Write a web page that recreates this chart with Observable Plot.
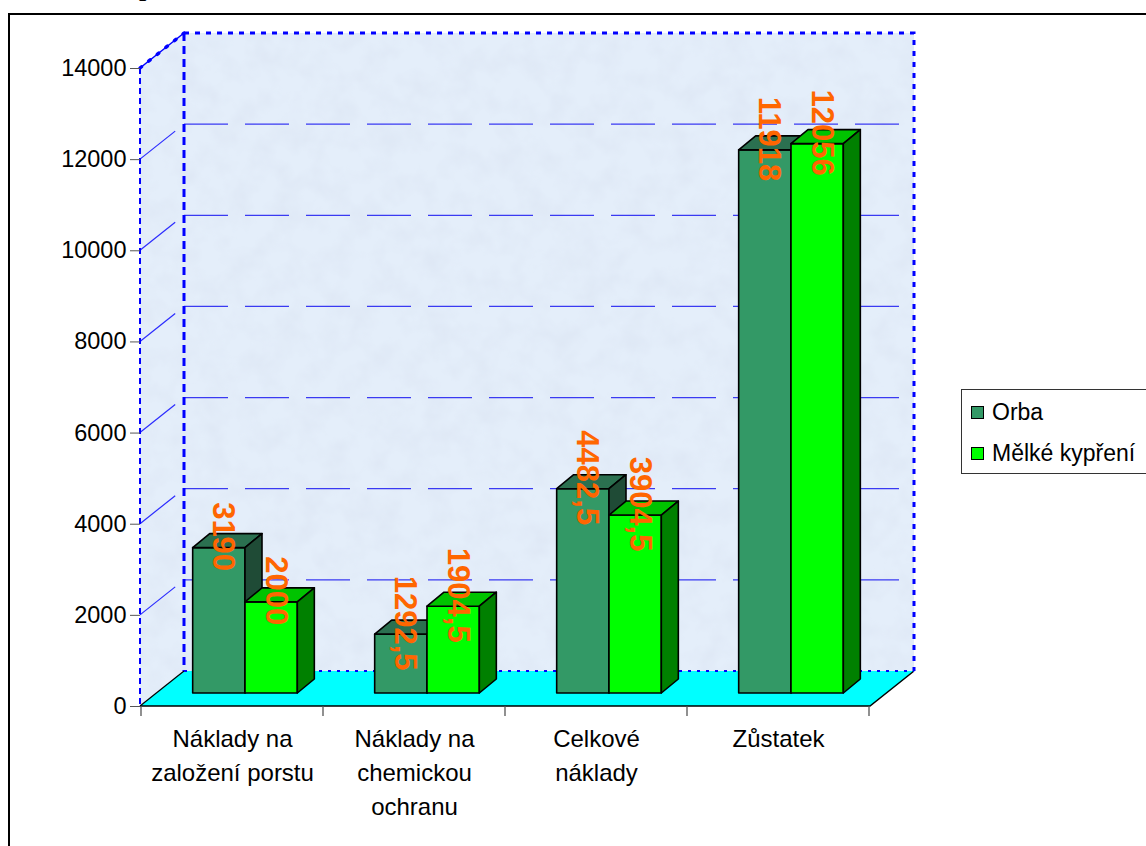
<!DOCTYPE html>
<html>
<head>
<meta charset="utf-8">
<script src="https://cdn.jsdelivr.net/npm/d3@7"></script>
<script src="https://cdn.jsdelivr.net/npm/@observablehq/plot@0.6"></script>
<style>
  html, body { margin: 0; padding: 0; background: #fff; }
  #chart { position: relative; width: 1146px; height: 846px; overflow: hidden; background: #fff; }
  #chart svg { position: absolute; left: 0; top: 0; }
  #frame { position: absolute; left: 8px; top: 13px; width: 1400px; height: 1000px; border: 2px solid #000; }
  #title { position: absolute; left: 139px; top: -25px; font: bold 26px "Liberation Serif", serif; line-height: 26px; }
  #legend { position: absolute; left: 961px; top: 389px; width: 240px; height: 81px; border: 1.5px solid #333;
            background: #fff; font: 23px "Liberation Sans", Arial, sans-serif; padding-top: 2px; box-sizing: content-box; }
  #legend .row { height: 41px; display: flex; align-items: center; }
  #legend .sw { width: 11px; height: 11px; border: 1.5px solid #000; margin-left: 9px; margin-right: 8px; }
</style>
</head>
<body>
<div id="chart">
  <div id="frame"></div>
  <div id="title"></div>
  <div id="legend"></div>
</div>
<script>
// ---------------- data ----------------
const titleText = "p";
const categories = ["Náklady na\nzaložení porstu", "Náklady na\nchemickou\nochranu", "Celkové\nnáklady", "Zůstatek"];
const seriesNames = ["Orba", "Mělké kypření"];
const orba = [3190, 1292.5, 4482.5, 11918];
const melke = [2000, 1904.5, 3904.5, 12056];
const yTicks = [0, 2000, 4000, 6000, 8000, 10000, 12000, 14000];

// ---------------- styles ----------------
const frontColors = ["#339966", "#00ff00"];
const topColors = ["#2b7050", "#00c300"];
const sideColors = ["#1f4b36", "#008000"];
const labelColor = "#ff6600";
const WALL = "#e4eefa";
const DEPTH = [44, -35];     // depth of walls / floor (px)
const BAR_OFF = [13, -13];   // bar front plane offset (px)
const BAR_D = [17, -14];     // bar depth (px)
const GROUP = 0.575;         // share of the category band used by the two bars

const fmt = v => String(v).replace(".", ",");
const seriesValues = [orba, melke];

document.getElementById("title").textContent = titleText;

// walls, floor and gridlines drawn with the plot's scales
function walls(index, scales, values, dims) {
  const {y} = scales;
  const g = d3.create("svg:g");
  const x0 = dims.marginLeft, x1 = dims.width - dims.marginRight;
  const y0 = y(0), yT = y(yTicks[yTicks.length - 1]);
  const [dx, dy] = DEPTH;
  const defs = g.append("defs");
  const f = defs.append("filter").attr("id", "mottle").attr("x", 0).attr("y", 0).attr("width", 1).attr("height", 1);
  f.append("feTurbulence").attr("type", "fractalNoise").attr("baseFrequency", "0.04").attr("numOctaves", 3).attr("seed", 7);
  f.append("feColorMatrix").attr("type", "matrix")
    .attr("values", "0 0 0 0 0.72  0 0 0 0 0.79  0 0 0 0 0.90  1.4 0 0 0 -0.52");
  f.append("feComposite").attr("in2", "SourceGraphic").attr("operator", "in");

  const back = `M${x0 + dx},${yT + dy}H${x1 + dx}V${y0 + dy}H${x0 + dx}Z`;
  const left = `M${x0},${yT}L${x0 + dx},${yT + dy}V${y0 + dy}L${x0},${y0}Z`;
  for (const d of [left, back]) {
    g.append("path").attr("d", d).attr("fill", WALL);
    g.append("path").attr("d", d).attr("fill", "#000").attr("filter", "url(#mottle)");
  }
  // gridlines on back wall + left wall
  for (const t of yTicks.slice(1, -1)) {
    g.append("line").attr("x1", x0 + dx).attr("x2", x1 + dx).attr("y1", y(t) + dy).attr("y2", y(t) + dy)
      .attr("stroke", "#3a3af2").attr("stroke-width", 1.3).attr("stroke-dasharray", "44,17");
    g.append("line").attr("x1", x0).attr("y1", y(t)).attr("x2", x0 + 0.8 * dx).attr("y2", y(t) + 0.8 * dy)
      .attr("stroke", "#2b2bff").attr("stroke-width", 1.2);
  }
  // floor
  g.append("path").attr("d", `M${x0},${y0}H${x1}L${x1 + dx},${y0 + dy}H${x0 + dx}Z`).attr("fill", "#00ffff");
  g.append("path").attr("d", `M${x0},${y0}H${x1}L${x1 + dx},${y0 + dy}`).attr("fill", "none").attr("stroke", "#000").attr("stroke-width", 1.5);
  g.append("path").attr("d", `M${x0},${y0}L${x0 + dx},${y0 + dy}`).attr("stroke", "#000").attr("stroke-width", 1.2);
  // dashed borders of the walls
  const blue = "#0000ff";
  g.append("path").attr("d", `M${x0 + dx},${yT + dy}H${x1 + dx}V${y0 + dy}`).attr("fill", "none")
    .attr("stroke", blue).attr("stroke-width", 3).attr("stroke-dasharray", "5,6");
  g.append("path").attr("d", `M${x0 + dx},${yT + dy}V${y0 + dy}`).attr("stroke", blue).attr("stroke-width", 3).attr("stroke-dasharray", "8,5");
  g.append("path").attr("d", `M${x0 + dx},${y0 + dy}H${x1 + dx}`).attr("stroke", blue).attr("stroke-width", 2).attr("stroke-dasharray", "3,6");
  g.append("path").attr("d", `M${x0},${yT}V${y0}`).attr("stroke", blue).attr("stroke-width", 2).attr("stroke-dasharray", "6,4");
  g.append("path").attr("d", `M${x0},${yT}L${x0 + dx},${yT + dy}`).attr("stroke", blue).attr("stroke-width", 1.5);
  g.append("path").attr("d", `M${x0},${yT}L${x0 + dx},${yT + dy}`).attr("stroke", blue).attr("stroke-width", 3.5)
    .attr("stroke-dasharray", "2,9").attr("stroke-linecap", "round");
  return g.node();
}

// 3D bars from the scales
function bars(index, scales, values, dims) {
  const {x, y} = scales;
  const g = d3.create("svg:g").attr("stroke", "#000").attr("stroke-width", 1.6).attr("stroke-linejoin", "round");
  const bw = x.bandwidth();
  const barW = bw * GROUP / 2;
  const [ddx, ddy] = BAR_D;
  categories.forEach((c, i) => {
    const gx = x(c) + (bw - 2 * barW) / 2 + BAR_OFF[0];
    seriesValues.forEach((vals, s) => {
      const L = gx + s * barW, R = L + barW;
      const T = y(vals[i]) + BAR_OFF[1], B = y(0) + BAR_OFF[1];
      g.append("path").attr("d", `M${L},${T}H${R}V${B}H${L}Z`).attr("fill", frontColors[s]);
      g.append("path").attr("d", `M${L},${T}H${R}L${R + ddx},${T + ddy}H${L + ddx}Z`).attr("fill", topColors[s]);
      g.append("path").attr("d", `M${R},${T}L${R + ddx},${T + ddy}V${B + ddy}L${R},${B}Z`).attr("fill", sideColors[s]);
    });
  });
  return g.node();
}

// category boundary ticks below the floor
function xTicks(index, scales, values, dims) {
  const {x, y} = scales;
  const g = d3.create("svg:g").attr("stroke", "#555").attr("stroke-width", 1.3);
  const bounds = categories.map(c => x(c)).concat([x(categories[categories.length - 1]) + x.bandwidth()]);
  for (const b of bounds) g.append("line").attr("x1", b).attr("x2", b).attr("y1", y(0)).attr("y2", y(0) + 10);
  return g.node();
}

const labelData = s => categories.map((c, i) => ({category: c, value: seriesValues[s][i]}));

const chart = Plot.plot({
  width: 1146,
  height: 846,
  marginLeft: 140,
  marginRight: 276,
  marginTop: 68,
  marginBottom: 140,
  style: {fontFamily: "'Liberation Sans', Arial, sans-serif", fontSize: "23px", background: "transparent"},
  x: {type: "band", domain: categories, padding: 0, axis: null},
  y: {domain: [0, 14000], axis: null},
  marks: [
    walls,
    bars,
    xTicks,
    Plot.axisY(yTicks, {tickSize: 10, tickPadding: 4, tickFormat: d => String(d), label: null, fontSize: 23.5, stroke: "#555"}),
    Plot.text(categories, {x: d => d, frameAnchor: "bottom", lineAnchor: "top", dy: 16, fontSize: 24, lineHeight: 1.42, fill: "#000"}),
    Plot.text(labelData(0), {x: "category", y: "value", text: d => fmt(d.value), rotate: 90, dx: -9.5, dy: -24.5,
      fill: labelColor, fontSize: 31, fontWeight: "bold"}),
    Plot.text(labelData(1), {x: "category", y: "value", text: d => fmt(d.value), rotate: 90, dx: 43, dy: -24.5,
      fill: labelColor, fontSize: 31, fontWeight: "bold"})
  ]
});
document.getElementById("chart").insertBefore(chart, document.getElementById("legend"));

// legend
const legend = d3.select("#legend");
seriesNames.forEach((name, s) => {
  const row = legend.append("div").attr("class", "row");
  row.append("div").attr("class", "sw").style("background", frontColors[s]);
  row.append("span").text(name);
});
</script>
</body>
</html>
